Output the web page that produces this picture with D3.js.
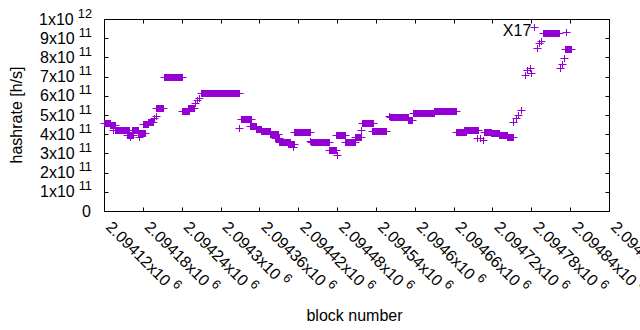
<!DOCTYPE html>
<html>
<head>
<meta charset="utf-8">
<script src="https://cdn.jsdelivr.net/npm/d3@7"></script>
<style>
  body { margin: 0; background: #fff; }
  text { font-family: "Liberation Sans", Arial, sans-serif; }
</style>
</head>
<body>
<svg id="chart"></svg>
<script>
// runs of blocks reporting the same hashrate (single points have start == end)
var runStart = [2094120, 2094129, 2094134, 2094137, 2094155, 2094160, 2094163, 2094172, 2094174, 2094180,
                2094188, 2094197, 2094200, 2094200, 2094212, 2094240, 2094249, 2094260, 2094263, 2094266,
                2094270, 2094328, 2094331, 2094345, 2094354, 2094363, 2094377, 2094384, 2094391, 2094404,
                2094412, 2094413, 2094438, 2094439, 2094468, 2094480, 2094479, 2094493, 2094507, 2094517,
                2094519, 2094534, 2094560, 2094561, 2094590, 2094598, 2094630, 2094663, 2094676, 2094696,
                2094700, 2094705, 2094707, 2094718, 2094730, 2094743, 2094751, 2094756, 2094760, 2094764,
                2094770, 2094774, 2094778, 2094779, 2094784, 2094789, 2094792, 2094795, 2094798, 2094825,
                2094828, 2094831, 2094832, 2094834];
var runEnd   = [2094129, 2094137, 2094134, 2094159, 2094165, 2094160, 2094172, 2094183, 2094174, 2094188,
                2094196, 2094197, 2094200, 2094211, 2094240, 2094251, 2094259, 2094260, 2094263, 2094266,
                2094328, 2094328, 2094347, 2094354, 2094363, 2094377, 2094389, 2094391, 2094407, 2094414,
                2094412, 2094438, 2094438, 2094468, 2094479, 2094480, 2094493, 2094507, 2094517, 2094517,
                2094536, 2094556, 2094560, 2094589, 2094596, 2094630, 2094664, 2094679, 2094697, 2094696,
                2094700, 2094705, 2094718, 2094730, 2094743, 2094751, 2094751, 2094756, 2094760, 2094764,
                2094770, 2094774, 2094778, 2094779, 2094784, 2094789, 2094792, 2094795, 2094822, 2094825,
                2094828, 2094831, 2094841, 2094834];
var runRate  = [4.56e11, 4.49e11, 4.22e11, 4.20e11, 3.96e11, 3.87e11, 4.22e11, 4.06e11, 3.84e11, 4.51e11,
                4.64e11, 4.83e11, 4.95e11, 5.36e11, 6.96e11, 5.19e11, 5.36e11, 5.61e11, 5.78e11, 5.87e11,
                6.13e11, 4.32e11, 4.78e11, 4.43e11, 4.26e11, 4.15e11, 4.01e11, 3.79e11, 3.61e11, 3.51e11,
                3.35e11, 4.13e11, 3.65e11, 3.59e11, 3.16e11, 2.92e11, 3.96e11, 3.58e11, 3.87e11, 4.22e11,
                4.57e11, 4.17e11, 4.96e11, 4.88e11, 4.72e11, 5.09e11, 5.22e11, 4.13e11, 4.22e11, 3.79e11,
                3.79e11, 3.70e11, 4.13e11, 4.06e11, 3.97e11, 3.87e11, 4.65e11, 4.86e11, 5.00e11, 5.26e11,
                7.08e11, 7.34e11, 7.43e11, 7.17e11, 9.58e11, 8.47e11, 8.73e11, 8.85e11, 9.29e11, 7.43e11,
                7.64e11, 7.95e11, 8.42e11, 9.31e11];

var xTicks = [2094120, 2094180, 2094240, 2094300, 2094360, 2094420, 2094480,
              2094540, 2094600, 2094660, 2094720, 2094780, 2094840, 2094900];
var xTickMant = ["2.09412", "2.09418", "2.09424", "2.0943", "2.09436", "2.09442", "2.09448",
                 "2.09454", "2.0946", "2.09466", "2.09472", "2.09478", "2.09484", "2.0949"];
var yTicks = [0, 1e11, 2e11, 3e11, 4e11, 5e11, 6e11, 7e11, 8e11, 9e11, 1e12];
var yTickMant = ["0", "1", "2", "3", "4", "5", "6", "7", "8", "9", "1"];
var yTickExp  = ["", "11", "11", "11", "11", "11", "11", "11", "11", "11", "12"];

var label = {text: "X17", block: 2094780, rate: 9.1e11};

(function() { // wrapper so names like "top" don't hit window globals

var full_width = 640, full_height = 330,
    pl = 104, pr = 609, pt = 19, pb = 211,
    color = "#9400d3", h = 3.5;

var svg = d3.select("#chart")
    .attr("width", full_width)
    .attr("height", full_height);

var x = d3.scaleLinear().domain([xTicks[0], xTicks[xTicks.length - 1]]).range([pl, pr]);
var y = d3.scaleLinear().domain([0, 1e12]).range([pb, pt]);

// border
svg.append("rect")
    .attr("x", pl + 0.5).attr("y", pt + 0.5)
    .attr("width", pr - pl).attr("height", pb - pt)
    .attr("fill", "none").attr("stroke", "#000").attr("stroke-width", 1);

// ticks on all four sides (gnuplot mirror)
var ticks = svg.append("g").attr("stroke", "#000").attr("stroke-width", 1);
xTicks.forEach(function(t) {
  var px = Math.round(x(t)) + 0.5;
  ticks.append("line").attr("x1", px).attr("x2", px).attr("y1", pb + 0.5).attr("y2", pb - 3.5);
  ticks.append("line").attr("x1", px).attr("x2", px).attr("y1", pt + 0.5).attr("y2", pt + 4.5);
});
yTicks.forEach(function(t) {
  var py = Math.round(y(t)) + 0.5;
  ticks.append("line").attr("y1", py).attr("y2", py).attr("x1", pl + 0.5).attr("x2", pl + 4.5);
  ticks.append("line").attr("y1", py).attr("y2", py).attr("x1", pr + 0.5).attr("x2", pr - 3.5);
});

// y tick labels
var yl = svg.append("g").attr("font-size", 16).attr("text-anchor", "end");
yTicks.forEach(function(t, i) {
  var txt = yl.append("text")
      .attr("x", yTickExp[i] ? 92 : 91)
      .attr("y", y(t))
      .attr("dy", "0.35em");
  txt.append("tspan").text(yTickMant[i] + (yTickExp[i] ? "x10" : ""));
  if (yTickExp[i]) {
    txt.append("tspan").attr("dx", 4).attr("dy", -7).attr("font-size", 12.8).text(yTickExp[i]);
  }
});

// x tick labels, rotated
var xl = svg.append("g").attr("font-size", 16);
xTicks.forEach(function(t, i) {
  var txt = xl.append("text")
      .attr("transform", "translate(" + (x(t) + 1) + "," + 228 + ") rotate(45)");
  txt.append("tspan").text(xTickMant[i] + "x10");
  txt.append("tspan").attr("dx", 4).attr("dy", -7).attr("font-size", 12.8).text("6");
});

// axis titles
svg.append("text")
    .attr("transform", "translate(22," + ((pt + pb) / 2) + ") rotate(-90)")
    .attr("text-anchor", "middle")
    .attr("font-size", 16)
    .text("hashrate [h/s]");

svg.append("text")
    .attr("x", (pl + pr) / 2 - 2)
    .attr("y", 321)
    .attr("text-anchor", "middle")
    .attr("font-size", 16)
    .text("block number");

// points: each run draws as a row of '+' markers merged together
var runs = d3.range(runStart.length).map(function(i) {
  return {s: runStart[i], e: runEnd[i], r: runRate[i]};
});

var pts = svg.append("g");
pts.selectAll("rect")
    .data(runs)
    .enter().append("rect")
    .attr("x", function(d) { return Math.round(x(d.s)); })
    .attr("y", function(d) { return Math.round(y(d.r)) - h + 0.5; })
    .attr("width", function(d) { return Math.round(x(d.e)) - Math.round(x(d.s)) + 1; })
    .attr("height", 2 * h)
    .attr("fill", color);
pts.selectAll("line")
    .data(runs)
    .enter().append("line")
    .attr("x1", function(d) { return Math.round(x(d.s)) - h; })
    .attr("x2", function(d) { return Math.round(x(d.e)) + 1 + h; })
    .attr("y1", function(d) { return Math.round(y(d.r)) + 0.5; })
    .attr("y2", function(d) { return Math.round(y(d.r)) + 0.5; })
    .attr("stroke", color)
    .attr("stroke-width", 1);

// label
svg.append("text")
    .attr("x", x(label.block))
    .attr("y", y(label.rate))
    .attr("text-anchor", "end")
    .attr("font-size", 16)
    .text(label.text);

})();
</script>
</body>
</html>
